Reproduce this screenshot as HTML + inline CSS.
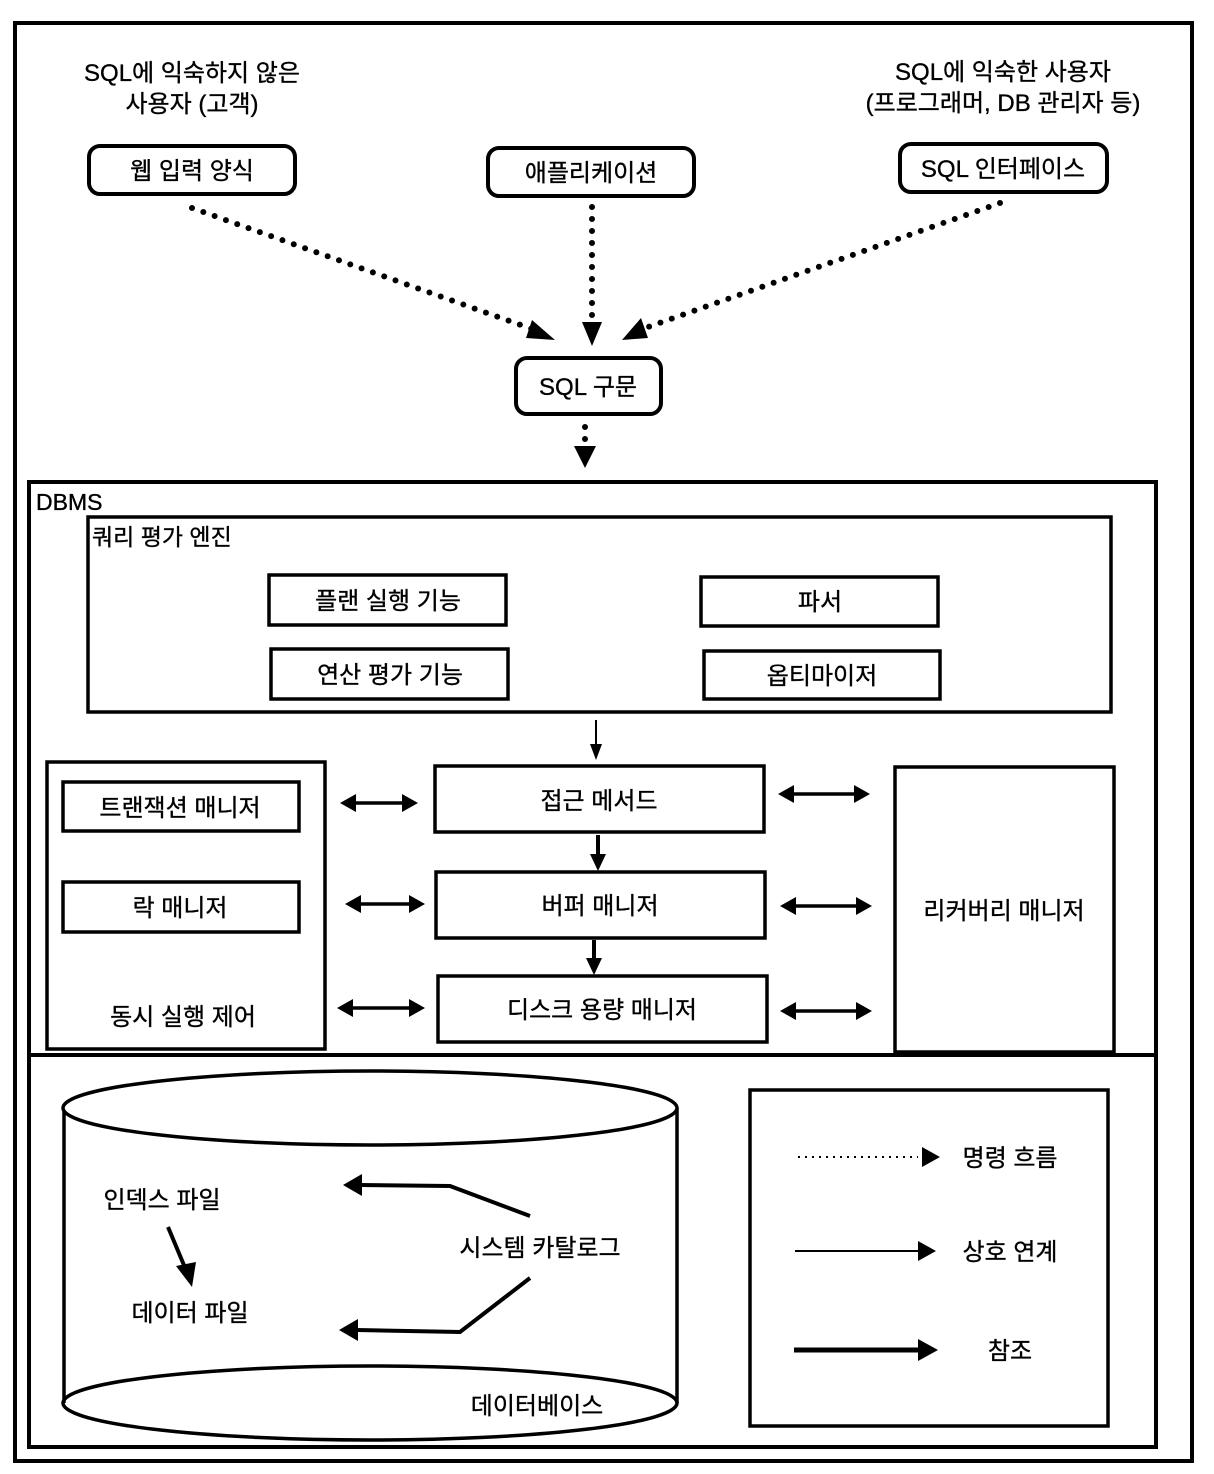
<!DOCTYPE html>
<html><head><meta charset="utf-8"><style>
html,body{margin:0;padding:0;background:#fff;}
svg{display:block;}
text{font-family:"Liberation Sans","Noto Sans CJK KR",sans-serif;fill:#000;stroke:#000;stroke-width:0.35;}
</style></head><body>
<svg width="1214" height="1474" viewBox="0 0 1214 1474" xmlns="http://www.w3.org/2000/svg">
<g fill="none" stroke="#000">
<rect x="15" y="23" width="1177" height="1438" stroke-width="4"/>
<rect x="29" y="482" width="1127" height="965" stroke-width="4"/>
<line x1="29" y1="1055" x2="1156" y2="1055" stroke-width="4"/>
<rect x="88" y="517" width="1023" height="195" stroke-width="3.5"/>
<rect x="269" y="575" width="237" height="50" stroke-width="3.5"/>
<rect x="701" y="577" width="237" height="49" stroke-width="3.5"/>
<rect x="271" y="649" width="237" height="50" stroke-width="3.5"/>
<rect x="704" y="651" width="236" height="48" stroke-width="3.5"/>
<rect x="47" y="762" width="278" height="287" stroke-width="3.5"/>
<rect x="63" y="782" width="236" height="49" stroke-width="3.5"/>
<rect x="63" y="882" width="236" height="50" stroke-width="3.5"/>
<rect x="435" y="766" width="329" height="66" stroke-width="3.5"/>
<rect x="436" y="872" width="329" height="66" stroke-width="3.5"/>
<rect x="438" y="976" width="329" height="66" stroke-width="3.5"/>
<rect x="895" y="767" width="219" height="285" stroke-width="3.5"/>
<rect x="89" y="146" width="206" height="48" rx="11" stroke-width="4"/>
<rect x="488" y="148" width="206" height="48" rx="11" stroke-width="4"/>
<rect x="900" y="144" width="207" height="48" rx="11" stroke-width="4"/>
<rect x="516" y="358" width="145" height="56" rx="11" stroke-width="4"/>
<rect x="750" y="1090" width="358" height="336" stroke-width="3.5"/>
<line x1="64" y1="1108" x2="64" y2="1403" stroke-width="3.5"/>
<line x1="677" y1="1108" x2="677" y2="1403" stroke-width="3.5"/>
<ellipse cx="370" cy="1108" rx="307" ry="37" stroke-width="3.5" fill="#fff"/>
<ellipse cx="370" cy="1403" rx="307" ry="37" stroke-width="3.5"/>
<g stroke-width="6" stroke-linecap="round" stroke-dasharray="0 12">
<line x1="192" y1="208" x2="532" y2="329"/>
<line x1="592" y1="207" x2="592" y2="322"/>
<line x1="1000" y1="203" x2="648" y2="327"/>
<line x1="585" y1="427" x2="585" y2="444"/>
</g>
<line x1="596" y1="720" x2="596" y2="748" stroke-width="2"/>
<line x1="598" y1="835" x2="598" y2="858" stroke-width="4"/>
<line x1="594" y1="940" x2="594" y2="962" stroke-width="4"/>
<g stroke-width="3.5">
<line x1="352" y1="803" x2="406" y2="803"/>
<line x1="357" y1="904" x2="413" y2="904"/>
<line x1="349" y1="1008" x2="413" y2="1008"/>
<line x1="790" y1="794" x2="858" y2="794"/>
<line x1="792" y1="906" x2="860" y2="906"/>
<line x1="792" y1="1011" x2="860" y2="1011"/>
</g>
<polyline points="530,1216 450,1186 360,1185" stroke-width="4"/>
<polyline points="530,1278 460,1332 357,1330" stroke-width="4"/>
<line x1="168" y1="1227" x2="186" y2="1270" stroke-width="4"/>
<line x1="798" y1="1157" x2="918" y2="1157" stroke-width="2" stroke-dasharray="2 5"/>
<line x1="795" y1="1251" x2="918" y2="1251" stroke-width="2"/>
<line x1="794" y1="1350" x2="918" y2="1350" stroke-width="5"/>
</g>
<g fill="#000">
<polygon points="555,340 532,320 526,338"/>
<polygon points="592,346 582,322 602,322"/>
<polygon points="622,340 641,318 648,338"/>
<polygon points="585,468 574,446 596,446"/>
<polygon points="596,760 590,744 602,744"/>
<polygon points="598,871 590,854 606,854"/>
<polygon points="594,975 586,958 602,958"/>
<polygon points="340,803 356,794 356,812"/><polygon points="418,803 402,794 402,812"/>
<polygon points="345,904 361,895 361,913"/><polygon points="425,904 409,895 409,913"/>
<polygon points="337,1008 353,999 353,1017"/><polygon points="425,1008 409,999 409,1017"/>
<polygon points="778,794 794,785 794,803"/><polygon points="870,794 854,785 854,803"/>
<polygon points="780,906 796,897 796,915"/><polygon points="872,906 856,897 856,915"/>
<polygon points="780,1011 796,1002 796,1020"/><polygon points="872,1011 856,1002 856,1020"/>
<polygon points="343,1185 362,1174 362,1196"/>
<polygon points="339,1330 358,1319 358,1341"/>
<polygon points="192,1287 176,1266 196,1262"/>
<polygon points="940,1157 922,1147 922,1167"/>
<polygon points="936,1251 918,1241 918,1261"/>
<polygon points="938,1350 918,1339 918,1361"/>
</g>
<g font-size="24" text-anchor="middle">
<text x="192" y="81">SQL에 익숙하지 않은</text>
<text x="192" y="112">사용자 (고객)</text>
<text x="1003" y="80">SQL에 익숙한 사용자</text>
<text x="1003" y="111">(프로그래머, DB 관리자 등)</text>
<text x="192" y="179">웹 입력 양식</text>
<text x="591" y="181">애플리케이션</text>
<text x="1003" y="177">SQL 인터페이스</text>
<text x="588" y="395">SQL 구문</text>
<text x="388" y="609">플랜 실행 기능</text>
<text x="820" y="610">파서</text>
<text x="390" y="683">연산 평가 기능</text>
<text x="822" y="684">옵티마이저</text>
<text x="180" y="816">트랜잭션 매니저</text>
<text x="180" y="916">락 매니저</text>
<text x="183" y="1025">동시 실행 제어</text>
<text x="599" y="809">접근 메서드</text>
<text x="600" y="914">버퍼 매니저</text>
<text x="602" y="1018">디스크 용량 매니저</text>
<text x="1004" y="919">리커버리 매니저</text>
<text x="162" y="1208">인덱스 파일</text>
<text x="190" y="1321">데이터 파일</text>
<text x="540" y="1256">시스템 카탈로그</text>
<text x="537" y="1414">데이터베이스</text>
<text x="1010" y="1166">명령 흐름</text>
<text x="1010" y="1260">상호 연계</text>
<text x="1010" y="1359">참조</text>
</g>
<text x="36" y="510" font-size="23">DBMS</text>
<text x="92" y="545" font-size="23">쿼리 평가 엔진</text>
</svg>
</body></html>
